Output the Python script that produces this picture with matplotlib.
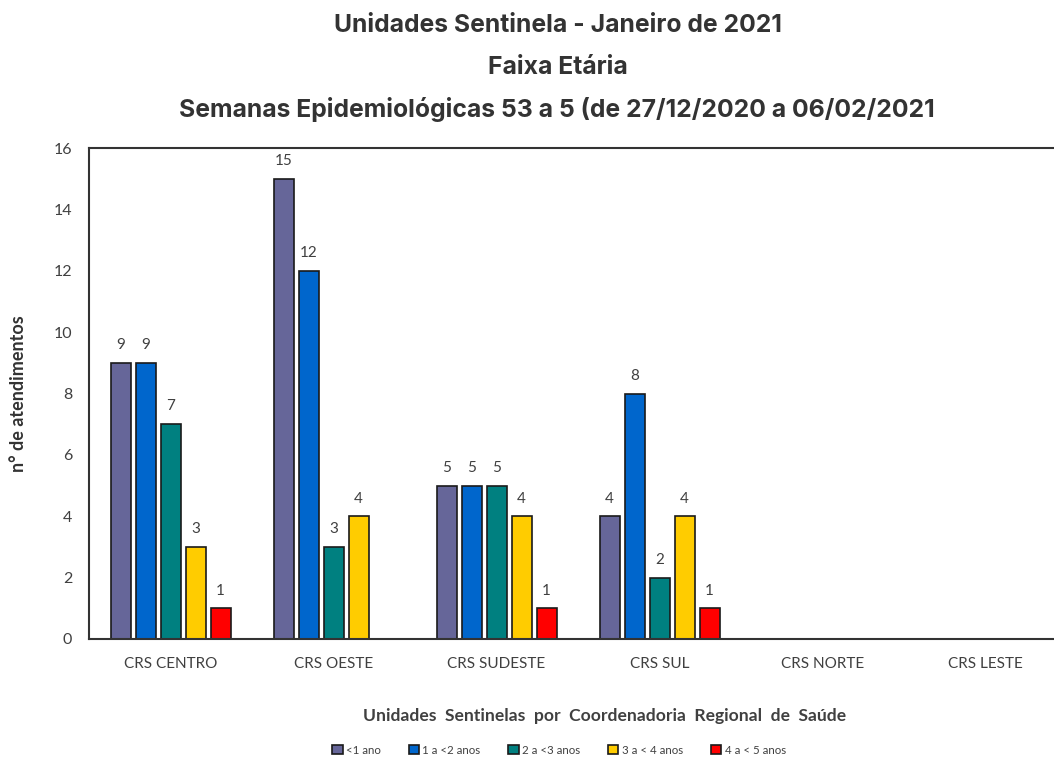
import numpy as np
import matplotlib.pyplot as plt

regions = ['CRS CENTRO', 'CRS OESTE', 'CRS SUDESTE', 'CRS SUL', 'CRS NORTE', 'CRS LESTE']
age_groups = ['<1 ano', '1 a <2 anos', '2 a <3 anos', '3 a < 4 anos', '4 a < 5 anos']
colors = ['#666699', '#0066CC', '#008080', '#FFCC00', '#FF0000']

# valores por faixa etaria (uma lista por faixa, na ordem das regioes)
menos_1 = [9, 15, 5, 4, 0, 0]
de_1_2 = [9, 12, 5, 8, 0, 0]
de_2_3 = [7, 3, 5, 2, 0, 0]
de_3_4 = [3, 4, 4, 4, 0, 0]
de_4_5 = [1, 0, 1, 1, 0, 0]
series = [menos_1, de_1_2, de_2_3, de_3_4, de_4_5]

W, H = 1054, 758
fig = plt.figure(figsize=(W / 100, H / 100), dpi=100)
ax = fig.add_axes([89 / W, 1 - 639 / H, 1 - 89 / W, (639 - 148) / H])

x = np.arange(len(regions))
step = 25 / 163
width = 20 / 163
for i, (vals, col) in enumerate(zip(series, colors)):
    pos = x + (i - 2) * step
    vals = np.array(vals)
    ax.bar(pos, vals, width, color=col, edgecolor='#1a1a1a', linewidth=1.2,
           label=age_groups[i])
    for p, v in zip(pos, vals):
        if v > 0:
            ax.text(p, v + 0.35, str(v), ha='center', va='bottom',
                    fontsize=11, color='#404040', family='Lato')

ax.set_ylim(0, 16)
ax.set_xlim(-0.5, (W - 89) / 163 - 0.5)
ax.set_yticks(range(0, 17, 2))
ax.set_xticks(x)
ax.set_xticklabels(regions, fontsize=11, color='#404040', family='Lato')
ax.tick_params(axis='y', labelsize=11.5, labelcolor='#404040', length=0, pad=12)
ax.tick_params(axis='x', length=0, pad=13)
for lab in ax.get_yticklabels():
    lab.set_family('Lato')
for s in ['left', 'top', 'bottom']:
    ax.spines[s].set_color('#333333')
    ax.spines[s].set_linewidth(1.5)
ax.spines['right'].set_visible(False)

ax.set_ylabel('n° de atendimentos', fontsize=13, fontweight='bold',
              color='#333333', family='Lato', labelpad=19)

title_kw = dict(ha='center', va='center', fontsize=17.8, fontweight='bold',
                color='#333333', family='Inter')
fig.text(558 / W, 1 - 25 / H, 'Unidades Sentinela - Janeiro de 2021', **title_kw)
fig.text(558 / W, 1 - 67 / H, 'Faixa Etária', **title_kw)
fig.text(557 / W, 1 - 110 / H, 'Semanas Epidemiológicas 53 a 5 (de 27/12/2020 a 06/02/2021',
         **title_kw)

fig.text(605 / W, 1 - 716 / H, 'Unidades  Sentinelas  por  Coordenadoria  Regional  de  Saúde',
         ha='center', va='center', fontsize=12.6, fontweight='bold', color='#404040', family='Lato')

leg = fig.legend(loc='center', bbox_to_anchor=(559 / W, 1 - 750 / H), ncol=5, frameon=False,
                 prop={'family': 'Lato', 'size': 8.3}, handlelength=0.9, handleheight=0.9,
                 columnspacing=2.4, handletextpad=0.3)
for t in leg.get_texts():
    t.set_color('#404040')

fig.savefig('out.png', dpi=100)
